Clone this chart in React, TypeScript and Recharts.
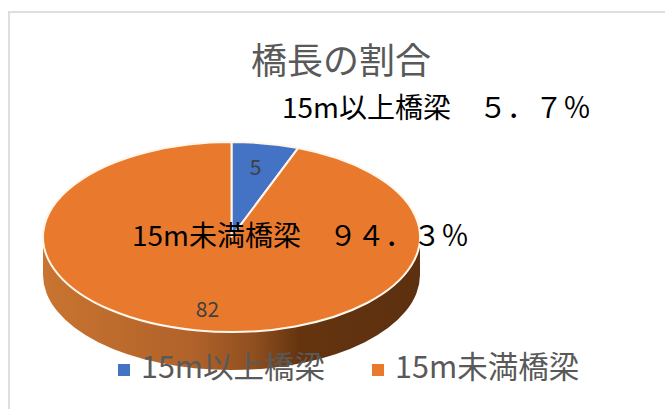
import React from "react";
import { PieChart, Pie, Legend } from "recharts";

const categories = ["15m以上橋梁", "15m未満橋梁"];
const counts = [5, 82];
const colors = ["#4472C4", "#E97A2D"];
const annotations = ["15m以上橋梁　５．７％", "15m未満橋梁　９４．３％"];
const title = "橋長の割合";

const data = categories.map((name, i) => ({ name, value: counts[i], fill: colors[i] }));

const FONT = "'Noto Sans CJK JP', 'Noto Sans', sans-serif";
const TILT = 0.504;
const DEPTH = 38;
const RAD = Math.PI / 180;

const SliceShape = (props: any) => {
  const { cx, cy, outerRadius: R, startAngle, endAngle, fill } = props;
  const ry = R * TILT;
  const pt = (a: number) => [cx + R * Math.cos(a * RAD), cy - ry * Math.sin(a * RAD)];
  const [sx, sy] = pt(startAngle);
  const [ex, ey] = pt(endAngle);
  const large = Math.abs(startAngle - endAngle) > 180 ? 1 : 0;
  const top = `M${cx},${cy} L${sx},${sy} A${R},${ry} 0 ${large} 1 ${ex},${ey} Z`;
  const coversFront = Math.abs(startAngle - endAngle) > 180;
  const side = `M${cx + R},${cy} L${cx + R},${cy + DEPTH} A${R},${ry} 0 0 1 ${cx - R},${cy + DEPTH} L${cx - R},${cy} A${R},${ry} 0 0 0 ${cx + R},${cy} Z`;
  return (
    <g>
      {coversFront && (
        <>
          <defs>
            <linearGradient id="sideGrad" x1="0" y1="0" x2="1" y2="0">
              <stop offset="0" stopColor="#C97430" />
              <stop offset="0.4" stopColor="#B0622A" />
              <stop offset="0.56" stopColor="#8F4F1F" />
              <stop offset="0.68" stopColor="#65340F" />
              <stop offset="1" stopColor="#5C3010" />
            </linearGradient>
          </defs>
          <path d={side} fill="url(#sideGrad)" />
        </>
      )}
      <path d={top} fill={fill} stroke="#FFF6EC" strokeWidth={2} strokeLinejoin="round" />
    </g>
  );
};

const SliceLabel = (props: any) => {
  const { cx, cy, midAngle, outerRadius: R, value } = props;
  const x = cx + R * 0.71 * Math.cos(midAngle * RAD);
  const y = cy - R * 0.755 * TILT * Math.sin(midAngle * RAD);
  return (
    <text x={x} y={y} textAnchor="middle" dominantBaseline="central" fontSize={21} fill="#404040" fontFamily={FONT}>
      {value}
    </text>
  );
};

export default function App() {
  return (
    <div style={{ position: "absolute", left: 0, top: 0, width: 665, height: 409, background: "#fff", overflow: "hidden" }}>
      <div style={{ position: "absolute", left: 8, top: 11, width: 700, height: 450, border: "2px solid #DEDEDE", boxSizing: "border-box" }} />
      <PieChart width={665} height={409} margin={{ top: 0, right: 0, bottom: 0, left: 0 }} style={{ position: "absolute", left: 0, top: 0 }}>
        <Pie
          data={data}
          dataKey="value"
          nameKey="name"
          cx={231.5}
          cy={237}
          outerRadius={188.5}
          startAngle={90}
          endAngle={-270}
          stroke="none"
          shape={SliceShape}
          label={SliceLabel}
          labelLine={false}
          isAnimationActive={false}
        />
        <Legend
          iconType="square"
          iconSize={12}
          wrapperStyle={{ position: "absolute", left: 0, top: 342, width: 700, height: 50, textAlign: "left", paddingLeft: 118, fontFamily: FONT, fontSize: 30.5, lineHeight: "46px" }}
          align="left"
          formatter={(v: string) => <span style={{ color: "#595959", marginLeft: 7, marginRight: 37 }}>{v}</span>}
        />
      </PieChart>
      <svg width={665} height={409} style={{ position: "absolute", left: 0, top: 0, pointerEvents: "none" }}>
        <text x={341} y={74} textAnchor="middle" fontSize={36} fill="#595959" fontFamily={FONT}>{title}</text>
        <text x={282} y={118} fontSize={28} fill="#000" fontFamily={FONT}>{annotations[0]}</text>
        <text x={132} y={246} fontSize={28} fill="#000" fontFamily={FONT}>{annotations[1]}</text>
      </svg>
    </div>
  );
}
